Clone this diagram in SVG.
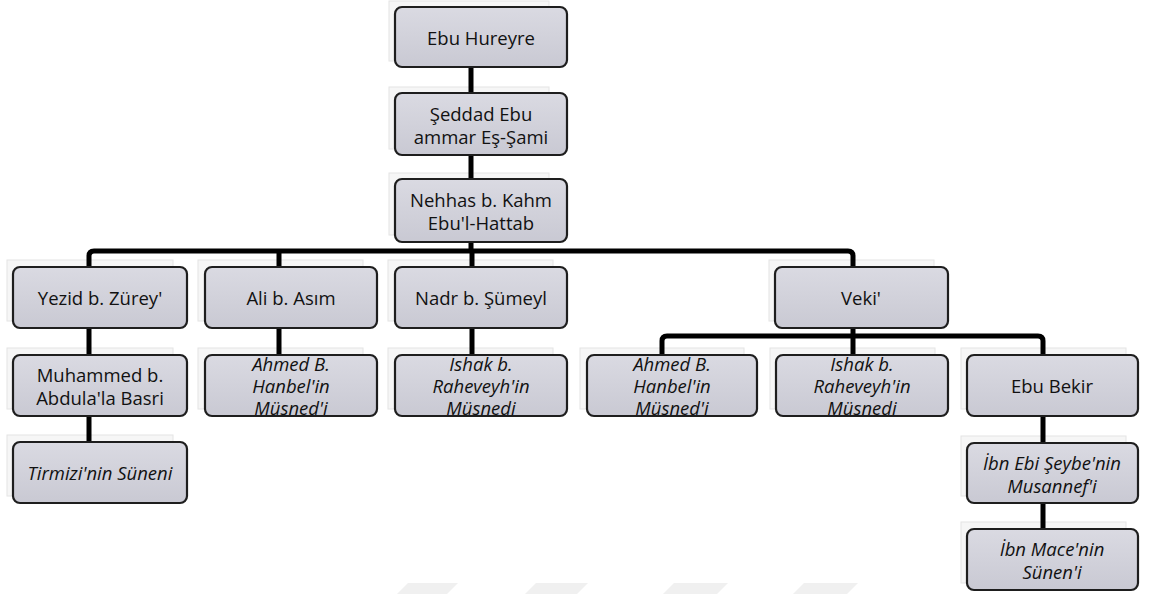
<svg xmlns="http://www.w3.org/2000/svg" width="1150" height="594" viewBox="0 0 1150 594">
<defs>
<linearGradient id="g" x1="0" y1="0" x2="0" y2="1">
<stop offset="0" stop-color="#DADAE2"/>
<stop offset="1" stop-color="#C9C9D3"/>
</linearGradient>
<style>
.sh{fill:#F6F6F6;stroke:#E4E4E4;stroke-width:1}
.bx{fill:url(#g);stroke:#1E1E1E;stroke-width:2.2}
.t{font-family:"Open Sans","Liberation Sans",sans-serif;font-size:18.5px;fill:#111;text-anchor:middle;dominant-baseline:central}
.i{font-style:italic}
.c{fill:none;stroke:#000;stroke-width:5;stroke-linejoin:round}
.wm{fill:#F0F0F0}
</style>
</defs>
<rect width="1150" height="594" fill="#fff"/>
<g id="watermark">
<polygon class="wm" points="397,594 408,583 458,583 447,594"/>
<polygon class="wm" points="525,594 536,583 588,583 577,594"/>
<polygon class="wm" points="663,594 674,583 728,583 717,594"/>
<polygon class="wm" points="793,594 804,583 858,583 847,594"/>
</g>
<g id="shadows">
<rect class="sh" x="389" y="1" width="160" height="60"/>
<rect class="sh" x="389" y="87" width="160" height="62"/>
<rect class="sh" x="389" y="173" width="160" height="62"/>
<rect class="sh" x="7" y="260" width="166" height="61"/>
<rect class="sh" x="198" y="260" width="165" height="61"/>
<rect class="sh" x="388" y="260" width="165" height="61"/>
<rect class="sh" x="769" y="260" width="165" height="61"/>
<rect class="sh" x="7" y="348" width="166" height="61"/>
<rect class="sh" x="198" y="348" width="165" height="61"/>
<rect class="sh" x="388" y="348" width="165" height="61"/>
<rect class="sh" x="580" y="348" width="164" height="61"/>
<rect class="sh" x="770" y="348" width="165" height="61"/>
<rect class="sh" x="961" y="348" width="165" height="61"/>
<rect class="sh" x="7" y="435" width="166" height="61"/>
<rect class="sh" x="961" y="436" width="165" height="60"/>
<rect class="sh" x="961" y="522" width="165" height="61"/>
</g>
<g id="connectors">
<path class="c" d="M471,67 V93 M471,155 V179 M471,242 V251"/>
<path class="c" d="M89,267 V256 Q89,251 94,251 H848 Q853,251 853,256 V267"/>
<path class="c" d="M279,251 V267 M472,251 V267"/>
<path class="c" d="M89,328 V355 M89,416 V442"/>
<path class="c" d="M279,328 V355 M472,328 V355"/>
<path class="c" d="M853,328 V355"/>
<path class="c" d="M662,355 V341 Q662,336 667,336 H1038 Q1043,336 1043,341 V355"/>
<path class="c" d="M1043,416 V443 M1043,503 V529"/>
</g>
<g id="n1"><rect class="bx" x="395" y="7" width="172" height="60" rx="7"/><text class="t" x="481" y="37">Ebu Hureyre</text></g>
<g id="n2"><rect class="bx" x="395" y="93" width="172" height="62" rx="7"/><text class="t" x="481" y="113">Şeddad Ebu</text><text class="t" x="481" y="136">ammar Eş-Şami</text></g>
<g id="n3"><rect class="bx" x="395" y="179" width="172" height="63" rx="7"/><text class="t" x="481" y="199">Nehhas b. Kahm</text><text class="t" x="481" y="222">Ebu'l-Hattab</text></g>
<g id="n4"><rect class="bx" x="13" y="267" width="174" height="61" rx="7"/><text class="t" x="100" y="297">Yezid b. Zürey'</text></g>
<g id="n5"><rect class="bx" x="205" y="267" width="172" height="61" rx="7"/><text class="t" x="291" y="297">Ali b. Asım</text></g>
<g id="n6"><rect class="bx" x="395" y="267" width="172" height="61" rx="7"/><text class="t" x="481" y="297">Nadr b. Şümeyl</text></g>
<g id="n7"><rect class="bx" x="775" y="267" width="173" height="61" rx="7"/><text class="t" x="861" y="297">Veki'</text></g>
<g id="n8"><rect class="bx" x="13" y="355" width="174" height="61" rx="7"/><text class="t" x="100" y="374">Muhammed b.</text><text class="t" x="100" y="397">Abdula'la Basri</text></g>
<g id="n9"><rect class="bx" x="205" y="355" width="172" height="61" rx="7"/><text class="t i" x="291" y="363">Ahmed B.</text><text class="t i" x="291" y="385">Hanbel'in</text><text class="t i" x="291" y="407">Müsned'i</text></g>
<g id="n10"><rect class="bx" x="395" y="355" width="172" height="61" rx="7"/><text class="t i" x="481" y="363">İshak b.</text><text class="t i" x="481" y="385">Raheveyh'in</text><text class="t i" x="481" y="407">Müsnedi</text></g>
<g id="n11"><rect class="bx" x="587" y="355" width="170" height="61" rx="7"/><text class="t i" x="672" y="363">Ahmed B.</text><text class="t i" x="672" y="385">Hanbel'in</text><text class="t i" x="672" y="407">Müsned'i</text></g>
<g id="n12"><rect class="bx" x="776" y="355" width="172" height="61" rx="7"/><text class="t i" x="862" y="363">İshak b.</text><text class="t i" x="862" y="385">Raheveyh'in</text><text class="t i" x="862" y="407">Müsnedi</text></g>
<g id="n13"><rect class="bx" x="967" y="355" width="171" height="61" rx="7"/><text class="t" x="1052" y="385">Ebu Bekir</text></g>
<g id="n14"><rect class="bx" x="13" y="442" width="174" height="61" rx="7"/><text class="t i" x="100" y="472">Tirmizi'nin Süneni</text></g>
<g id="n15"><rect class="bx" x="967" y="443" width="171" height="60" rx="7"/><text class="t i" x="1052" y="462">İbn Ebi Şeybe'nin</text><text class="t i" x="1052" y="485">Musannef'i</text></g>
<g id="n16"><rect class="bx" x="967" y="529" width="171" height="61" rx="7"/><text class="t i" x="1052" y="548">İbn Mace'nin</text><text class="t i" x="1052" y="571">Sünen'i</text></g>
</svg>
